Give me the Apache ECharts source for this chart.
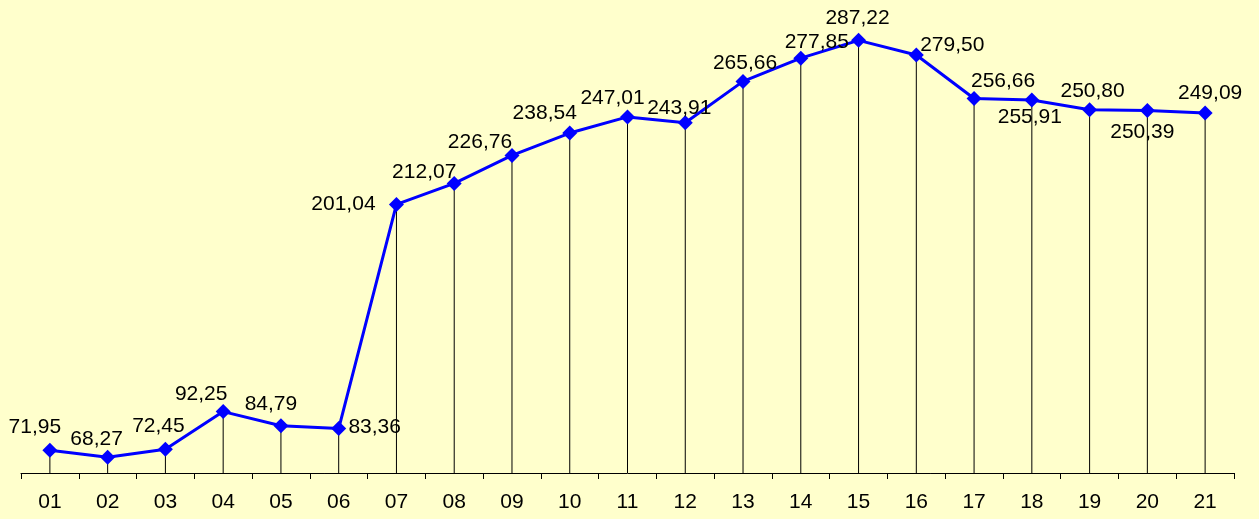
<!DOCTYPE html>
<html>
<head>
<meta charset="utf-8">
<style>
    html, body { margin: 0; padding: 0; background: #ffffcc; }
    #chart { width: 1259px; height: 519px; }
</style>
<script src="https://cdn.jsdelivr.net/npm/echarts@6/dist/echarts.min.js"></script>
</head>
<body>
<div id="chart"></div>
<script>
// data
var categories = ["01", "02", "03", "04", "05", "06", "07", "08", "09", "10", "11",
    "12", "13", "14", "15", "16", "17", "18", "19", "20", "21"];
var values = [71.95, 68.27, 72.45, 92.25, 84.79, 83.36, 201.04, 212.07, 226.76, 238.54, 247.01,
    243.91, 265.66, 277.85, 287.22, 279.50, 256.66, 255.91, 250.80, 250.39, 249.09];

// where each value label sits relative to its marker (px)
var labelOffsets = [
    [-15, -23], [-11, -18], [-7, -23], [-22, -17], [-10, -22], [36, -1], [-53, 0],
    [-30, -11], [-32, -13], [-25, -20], [-15, -19], [-6, -15], [2, -18], [16, -16],
    [-1, -22], [36, -10], [29, -17], [-2, 17], [3, -18], [-5, 22], [5, -20]
];

var chartInstance = echarts.init(document.getElementById("chart"));

var option = {
    backgroundColor: "#ffffcc",
    animation: false,
    textStyle: { fontFamily: "Liberation Sans, Arial, sans-serif" },
    grid: { left: 21, right: 25, top: 16, bottom: 46 },
    xAxis: {
        type: "category",
        data: categories,
        boundaryGap: true,
        axisLine: { lineStyle: { color: "#000", width: 1 } },
        axisTick: { show: true, length: 6, lineStyle: { color: "#000" } },
        axisLabel: { color: "#000", fontSize: 21, margin: 19 },
        splitLine: { show: false }
    },
    yAxis: {
        type: "value",
        min: 60,
        max: 300,
        show: false,
        splitLine: { show: false }
    },
    series: [
        {
            // drop lines
            type: "bar",
            data: values,
            barWidth: 1,
            itemStyle: { color: "#000" },
            silent: true,
            z: 1
        },
        {
            type: "line",
            data: values.map(function (v, i) {
                return {
                    value: v,
                    label: { offset: labelOffsets[i] }
                };
            }),
            symbol: "diamond",
            symbolSize: 15,
            lineStyle: { color: "#0000ff", width: 3 },
            itemStyle: { color: "#0000ff" },
            label: {
                show: true,
                position: "inside",
                align: "center",
                verticalAlign: "middle",
                color: "#000",
                fontSize: 21,
                formatter: function (p) {
                    return p.value.toFixed(2).replace(".", ",");
                }
            },
            z: 3
        }
    ]
};

chartInstance.setOption(option);
window.addEventListener("resize", chartInstance.resize);
</script>
</body>
</html>
